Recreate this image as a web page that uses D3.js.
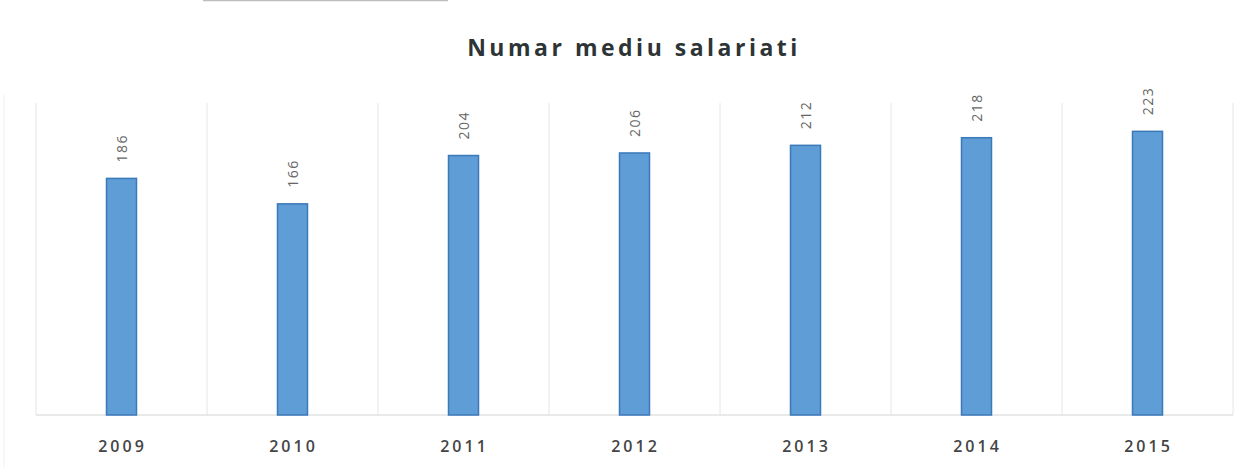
<!DOCTYPE html>
<html><head><meta charset="utf-8">
<script src="https://cdn.jsdelivr.net/npm/d3@7"></script>
<style>body{margin:0;background:#fff;}svg{display:block;}</style>
</head><body>
<svg id="c" width="1248" height="468"></svg>
<script>
const categories = ["2009","2010","2011","2012","2013","2014","2015"];
const values = [186,166,204,206,212,218,223];
const titleText = "Numar mediu salariati";

(function(){
const svg = d3.select("#c");
const mLeft = 36, mRight = 1233, mTop = 97, mBottom = 415;

const x = d3.scaleBand().domain(categories).range([mLeft, mRight]).paddingInner(0).paddingOuter(0);
const y = d3.scaleLinear().domain([0, 250]).range([mBottom, mTop]);

// faint scan artifacts
svg.append("line").attr("x1",203).attr("x2",448).attr("y1",0.5).attr("y2",0.5).attr("stroke","#bdbdbd").attr("stroke-width",1.5);
svg.append("line").attr("x1",4).attr("x2",4).attr("y1",95).attr("y2",468).attr("stroke","#f0f0f0");

// vertical gridlines at band boundaries
const bounds = categories.map(c => x(c)).concat([mRight]);
svg.append("g").selectAll("line").data(bounds).join("line")
  .attr("x1", d => d).attr("x2", d => d)
  .attr("y1", mTop + 6).attr("y2", mBottom)
  .attr("stroke", "#e6e6e6").attr("stroke-width", 1);

// baseline
svg.append("line").attr("x1", mLeft).attr("x2", mRight).attr("y1", mBottom).attr("y2", mBottom)
  .attr("stroke", "#d4d4d4").attr("stroke-width", 1);

const bw = 30;
svg.append("g").selectAll("rect").data(values).join("rect")
  .attr("x", (d,i) => x(categories[i]) + x.bandwidth()/2 - bw/2)
  .attr("y", d => y(d))
  .attr("width", bw)
  .attr("height", d => y(0) - y(d))
  .attr("fill", "#5f9dd6")
  .attr("stroke", "#3b79b9")
  .attr("stroke-width", 1.5);

// value labels rotated
svg.append("g").selectAll("text").data(values).join("text")
  .attr("transform", (d,i) => `translate(${x(categories[i]) + x.bandwidth()/2 + 5},${y(d) - 16}) rotate(-90)`)
  .attr("text-anchor", "start")
  .attr("font-family", "Open Sans, sans-serif")
  .attr("font-size", 14)
  .attr("letter-spacing", 1.5)
  .attr("fill", "#666666")
  .text(d => d);

// x axis labels
svg.append("g").selectAll("text").data(categories).join("text")
  .attr("x", d => x(d) + x.bandwidth()/2 + 1)
  .attr("y", 452)
  .attr("text-anchor", "middle")
  .attr("font-family", "Open Sans, sans-serif")
  .attr("font-size", 16)
  .attr("font-weight", 600)
  .attr("letter-spacing", 3)
  .attr("fill", "#454545")
  .text(d => d);

// title
svg.append("text")
  .attr("x", 634).attr("y", 56)
  .attr("text-anchor", "middle")
  .attr("font-family", "Open Sans, sans-serif")
  .attr("font-weight", "bold")
  .attr("font-size", 23)
  .attr("letter-spacing", 3.5)
  .attr("fill", "#2e3436")
  .text(titleText);
})();
</script>
</body></html>
